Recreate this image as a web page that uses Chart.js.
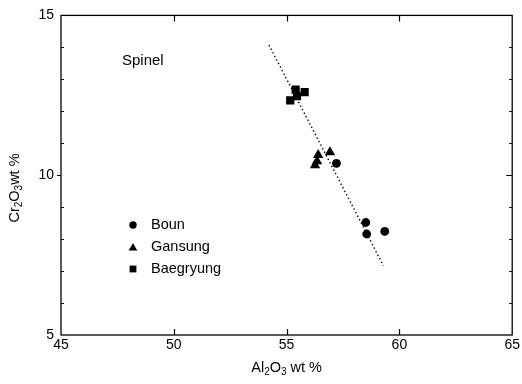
<!DOCTYPE html>
<html>
<head>
<meta charset="utf-8">
<script src="https://cdn.jsdelivr.net/npm/chart.js@4/dist/chart.umd.min.js"></script>
<style>
  html, body { margin: 0; padding: 0; background: #fff; }
  #wrap { width: 522px; height: 384px; }
</style>
</head>
<body>
<div id="wrap"><canvas id="chart"></canvas></div>
<script>
// --- data ---
const seriesNames = ['Boun', 'Gansung', 'Baegryung'];
const bounAl = [57.21, 58.51, 58.55, 59.35];
const bounCr = [10.37, 8.52, 8.16, 8.24];
const gansungAl = [56.40, 56.92, 56.26, 56.35];
const gansungCr = [10.63, 10.72, 10.31, 10.44];
const baegAl = [55.40, 55.80, 55.16, 55.46];
const baegCr = [12.68, 12.60, 12.34, 12.47];
const trendAl = [54.22, 59.29];
const trendCr = [14.07, 7.17];
const xTickLabels = [45, 50, 55, 60, 65];
const yTickLabels = [5, 10, 15];

const FONT = '"Liberation Sans", Arial, Helvetica, sans-serif';

function pts(xs, ys) {
    return xs.map((x, i) => ({ x, y: ys[i] }));
}

// draws text made of [string, isSubscript] parts, centred on (x, y)
function drawSubText(ctx, parts, x, y, size, rotate) {
    ctx.save();
    ctx.translate(x, y);
    if (rotate) ctx.rotate(-Math.PI / 2);
    const subSize = Math.round(size * 0.72);
    let total = 0;
    for (const [t, sub] of parts) {
        ctx.font = `${sub ? subSize : size}px ${FONT}`;
        total += ctx.measureText(t).width;
    }
    let cx = -total / 2;
    ctx.textBaseline = 'alphabetic';
    ctx.textAlign = 'left';
    ctx.fillStyle = '#000';
    for (const [t, sub] of parts) {
        ctx.font = `${sub ? subSize : size}px ${FONT}`;
        ctx.fillText(t, cx, sub ? size * 0.35 + 3 : size * 0.35);
        cx += ctx.measureText(t).width;
    }
    ctx.restore();
}

function marker(ctx, style, x, y, r) {
    ctx.beginPath();
    if (style === 'circle') {
        ctx.arc(x, y, r, 0, Math.PI * 2);
    } else if (style === 'triangle') {
        ctx.moveTo(x, y - r);
        ctx.lineTo(x + r * 0.866, y + r * 0.5);
        ctx.lineTo(x - r * 0.866, y + r * 0.5);
        ctx.closePath();
    } else {
        const s = r * Math.SQRT1_2;
        ctx.rect(x - s, y - s, s * 2, s * 2);
    }
    ctx.fill();
}

const framePlugin = {
    id: 'frame',
    afterDatasetsDraw(chart) {
        const { ctx, chartArea: a, scales } = chart;
        ctx.save();
        ctx.strokeStyle = '#000';
        ctx.lineWidth = 1.3;
        ctx.strokeRect(a.left, a.top, a.right - a.left, a.bottom - a.top);

        // x ticks, inward on top and bottom
        ctx.lineWidth = 1.2;
        ctx.beginPath();
        for (const t of scales.x.ticks) {
            const px = Math.round(scales.x.getPixelForValue(t.value)) + 0.5;
            if (px <= a.left + 1 || px >= a.right - 1) continue;
            ctx.moveTo(px, a.bottom); ctx.lineTo(px, a.bottom - 6);
            ctx.moveTo(px, a.top); ctx.lineTo(px, a.top + 6);
        }
        // y ticks
        for (const t of scales.y.ticks) {
            const py = Math.round(scales.y.getPixelForValue(t.value)) + 0.5;
            if (py <= a.top + 1 || py >= a.bottom - 1) continue;
            const major = t.value % 5 === 0;
            if (major) {
                ctx.moveTo(a.left, py); ctx.lineTo(a.left - 4, py);
                ctx.moveTo(a.right, py); ctx.lineTo(a.right - 6, py);
            } else {
                ctx.moveTo(a.left, py); ctx.lineTo(a.left + 3, py);
                ctx.moveTo(a.right, py); ctx.lineTo(a.right - 3, py);
            }
        }
        ctx.stroke();

        // panel label
        ctx.fillStyle = '#000';
        ctx.font = `15px ${FONT}`;
        ctx.textAlign = 'left';
        ctx.textBaseline = 'middle';
        ctx.fillText('Spinel', a.left + 61, a.top + 45);

        // legend inside the plot
        const styles = ['circle', 'triangle', 'rect'];
        const radii = [3.7, 5, 4.8];
        const rowY = [225, 247, 269];
        ctx.font = `14.5px ${FONT}`;
        seriesNames.forEach((name, i) => {
            marker(ctx, styles[i], a.left + 72, rowY[i] + (i === 1 ? 1 : 0), radii[i]);
            ctx.fillText(name, a.left + 90, rowY[i]);
        });

        // axis titles with subscripts
        drawSubText(ctx, [['Al', 0], ['2', 1], ['O', 0], ['3', 1], [' wt %', 0]],
            (a.left + a.right) / 2, 367, 14.5, false);
        drawSubText(ctx, [['Cr', 0], ['2', 1], ['O', 0], ['3', 1], ['wt %', 0]],
            14, 188, 14.5, true);
        ctx.restore();
    }
};

const ds = (label, xs, ys, style, r) => ({
    type: 'scatter',
    label,
    data: pts(xs, ys),
    pointStyle: style,
    pointRadius: r,
    pointHoverRadius: r,
    backgroundColor: '#000',
    borderColor: '#000',
    borderWidth: 0
});

new Chart(document.getElementById('chart'), {
    type: 'scatter',
    data: {
        datasets: [
            {
                type: 'line',
                label: 'trend',
                data: pts(trendAl, trendCr),
                borderColor: '#000',
                borderWidth: 1.4,
                borderDash: [1.4, 2.6],
                pointRadius: 0,
                fill: false
            },
            ds(seriesNames[0], bounAl, bounCr, 'circle', 4.4),
            ds(seriesNames[1], gansungAl, gansungCr, 'triangle', 6),
            ds(seriesNames[2], baegAl, baegCr, 'rect', 5.8)
        ]
    },
    options: {
        responsive: true,
        maintainAspectRatio: false,
        animation: false,
        devicePixelRatio: 1,
        layout: { padding: { left: 0, top: 15, right: 9, bottom: 0 } },
        plugins: {
            legend: { display: false },
            tooltip: { enabled: false }
        },
        scales: {
            x: {
                type: 'linear',
                min: 45, max: 65,
                border: { display: false },
                grid: { display: false, drawTicks: false },
                ticks: {
                    stepSize: 5,
                    padding: 2,
                    color: '#000',
                    font: { family: FONT, size: 14 },
                    callback: v => xTickLabels.includes(v) ? String(v) : ''
                },
                afterFit: s => { s.height = 49; }
            },
            y: {
                type: 'linear',
                min: 5, max: 15,
                border: { display: false },
                grid: { display: false, drawTicks: false },
                ticks: {
                    stepSize: 1,
                    padding: 7,
                    autoSkip: false,
                    color: '#000',
                    font: { family: FONT, size: 14 },
                    callback: v => yTickLabels.includes(v) ? String(v) : ''
                },
                afterFit: s => { s.width = 61; }
            }
        }
    },
    plugins: [framePlugin]
});
</script>
</body>
</html>
